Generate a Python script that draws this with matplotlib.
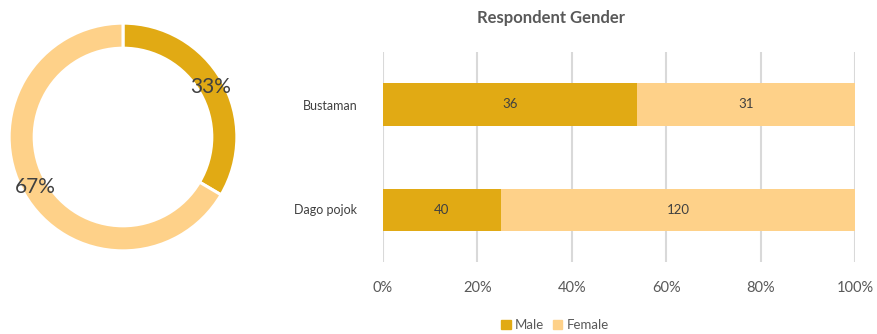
import matplotlib
matplotlib.use("Agg")
import matplotlib.pyplot as plt
from matplotlib.patches import Patch

plt.rcParams['font.family'] = ['Lato', 'DejaVu Sans']

# Data
locations = ["Dago pojok", "Bustaman"]
male = [40, 36]
female = [120, 31]
genders = ["Male", "Female"]
donut_values = [sum(male), sum(female)]
x_ticks = [0, 20, 40, 60, 80, 100]

c_male = "#E1AA14"
c_female = "#FED189"
c_text = "#404040"
c_axis = "#595959"
c_grid = "#D9D9D9"

fig = plt.figure(figsize=(8.78, 3.34), dpi=100)

# Donut of overall gender share
axd = fig.add_axes([8 / 878, (334 - 252) / 334, 230 / 878, 230 / 334])
wedges, texts, autotexts = axd.pie(
    donut_values, colors=[c_male, c_female], startangle=90, counterclock=False,
    radius=1.0, wedgeprops=dict(width=0.22, edgecolor="white", linewidth=2.2),
    autopct="%.0f%%", pctdistance=0.89,
    textprops=dict(color=c_text, fontsize=15),
)
axd.set_xlim(-1.01, 1.01)
axd.set_ylim(-1.01, 1.01)
axd.set_aspect("equal")
axd.axis("off")

# 100% stacked bars per location
axb = fig.add_axes([383 / 878, (334 - 262) / 334, (855 - 383) / 878, (262 - 52) / 334])
totals = [m + f for m, f in zip(male, female)]
male_pct = [m / t * 100 for m, t in zip(male, totals)]
female_pct = [f / t * 100 for f, t in zip(female, totals)]
ypos = list(range(len(locations)))
axb.barh(ypos, male_pct, height=0.4, color=c_male, zorder=3)
axb.barh(ypos, female_pct, left=male_pct, height=0.4, color=c_female, zorder=3)
for i in ypos:
    axb.text(male_pct[i] / 2, i, str(male[i]), ha="center", va="center",
             fontsize=9.5, color=c_text, zorder=4)
    axb.text(male_pct[i] + female_pct[i] / 2, i, str(female[i]), ha="center",
             va="center", fontsize=9.5, color=c_text, zorder=4)

axb.set_xlim(0, 100)
axb.set_ylim(-0.5, 1.5)
axb.set_xticks(x_ticks)
axb.set_xticklabels([f"{t}%" for t in x_ticks], fontsize=10.5, color=c_axis)
axb.set_yticks(ypos)
axb.set_yticklabels(locations, fontsize=9, color=c_text)
axb.tick_params(axis="both", length=0)
axb.tick_params(axis="x", pad=13.5)
axb.tick_params(axis="y", pad=18.5)
axb.grid(axis="x", color=c_grid, linewidth=1.5, zorder=0)
for s in axb.spines.values():
    s.set_visible(False)

fig.text(551 / 878, 1 - 18 / 334, "Respondent Gender", ha="center", va="center",
         fontsize=12, fontweight="bold", color=c_axis)

fig.legend(handles=[Patch(color=c_male), Patch(color=c_female)], labels=genders,
           loc="center", bbox_to_anchor=(555 / 878, 1 - 325 / 334), ncol=2,
           frameon=False, fontsize=9.5, handlelength=0.7, handleheight=0.7,
           handletextpad=0.3, columnspacing=0.7, labelcolor=c_axis)

fig.savefig("out.png", dpi=100, facecolor="white")
